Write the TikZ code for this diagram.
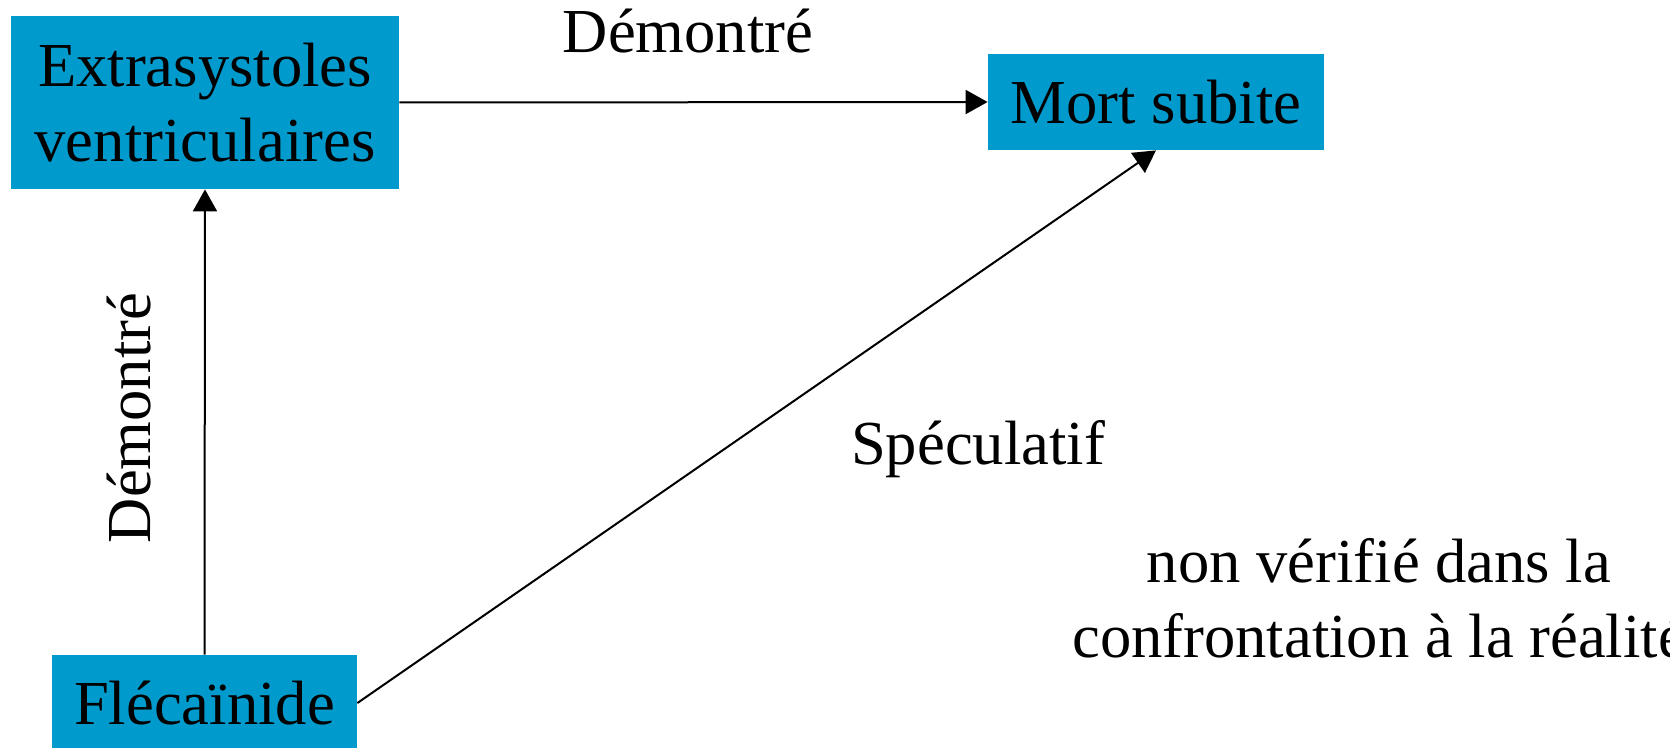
\documentclass[tikz,border=0pt]{standalone}
\usepackage{fontspec}
\setmainfont{Liberation Serif}
\usetikzlibrary{arrows.meta}
\definecolor{boxblue}{RGB}{0,155,204}
\tikzset{
  bluebox/.style={fill=boxblue, inner sep=0pt, align=center,
    font=\fontsize{31.3pt}{37.5pt}\selectfont},
  lbl/.style={inner sep=0pt, font=\fontsize{31.3pt}{37.5pt}\selectfont},
  conn/.style={line width=1pt, -{Triangle[length=11pt,width=12pt]}}
}
\begin{document}
\begin{tikzpicture}[x=0.5pt,y=-0.5pt]
\useasboundingbox (0,0) rectangle (1670,748);
\node[bluebox, minimum width=194pt, minimum height=86.5pt] (ev) at (205,102.5) {Extrasystoles\\ventriculaires};
\node[bluebox, minimum width=168pt, minimum height=48pt] (ms) at (1156,102) {Mort subite};
\node[bluebox, minimum width=152.5pt, minimum height=48pt] (fl) at (204.5,703) {Flécaïnide};
\draw[conn] (ev.east) -- (ms.west);
\draw[conn] (fl.north) -- (ev.south);
\draw[conn] (fl.east) -- (ms.south);
\node[lbl, anchor=base] (t1) at (688,53) {Démontré};
\node[lbl, anchor=base, rotate=90] (t2) at (150,418) {Démontré};
\node[lbl, anchor=base] (t3) at (978,465) {Spéculatif};
\node[lbl, align=center] (t4) at (1379,598.5) {non vérifié dans la\\confrontation à la réalité};
\end{tikzpicture}
\end{document}
